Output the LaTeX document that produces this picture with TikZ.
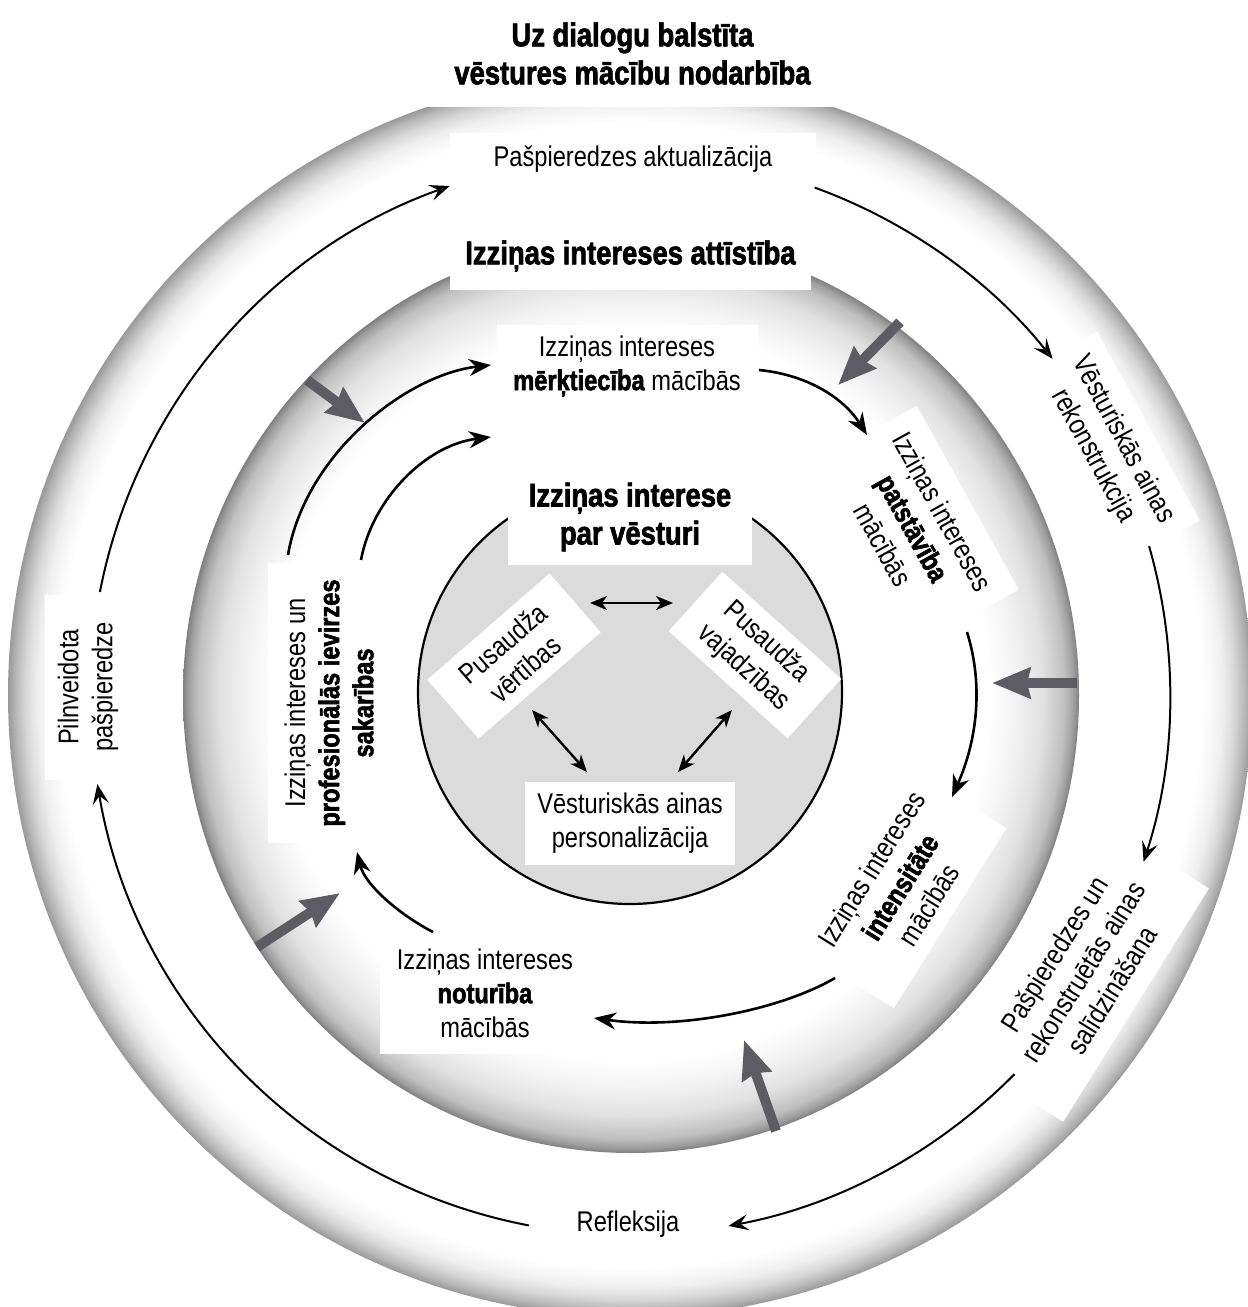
\documentclass[tikz,border=0pt]{standalone}
\usepackage{fontspec}
\setmainfont{Liberation Sans}[FakeStretch=0.83, BoldFeatures={FakeBold=2}]
\usetikzlibrary{arrows.meta,calc}

\newcommand\lblfont{\fontsize{28.5}{34}\selectfont}
\newcommand\headfont{\fontsize{33}{38}\selectfont\bfseries}

\definecolor{pushgray}{RGB}{92,92,98}

% soft rim of the outer disc and of the middle disc
\pgfdeclareradialshading{outerrim}{\pgfpoint{0bp}{0bp}}{%
  color(0bp)=(white); color(23bp)=(white); color(23.8bp)=(black!6);
  color(24.3bp)=(black!16); color(24.7bp)=(black!28); color(25bp)=(black!40);
  color(50bp)=(black!40)}
\pgfdeclareradialshading{midrim}{\pgfpoint{0bp}{0bp}}{%
  color(0bp)=(white); color(20bp)=(white); color(21.5bp)=(black!5);
  color(23bp)=(black!12); color(24.2bp)=(black!25); color(24.7bp)=(black!38);
  color(25bp)=(black!50); color(50bp)=(black!50)}

\tikzset{
  box/.style={fill=white, inner sep=0pt, align=center, font=\lblfont},
  headbox/.style={box, font=\headfont},
  cyc/.style={line width=2pt,
    -{Stealth[length=20pt,width=16pt,inset=8pt,fill=black!35,line width=2.6pt]}},
  dev/.style={line width=2.6pt, -{Stealth[length=22pt,width=17pt,inset=7pt]}},
  link/.style={line width=2.4pt,
    {Stealth[length=17pt,width=14pt,inset=5pt]}-{Stealth[length=17pt,width=14pt,inset=5pt]}},
  push/.style={line width=10pt, draw=pushgray,
    -{Stealth[length=38pt,width=30pt,inset=3pt]}},
}

\begin{document}
\begin{tikzpicture}[x=1pt,y=-1pt]
\useasboundingbox (0,0) rectangle (1248,1307);
\clip (0,0) rectangle (1248,1307);

% rings
\coordinate (O) at (630,695);
\shade[shading=outerrim] (O) circle[radius=622];
\shade[shading=midrim] (631,695) ellipse[x radius=448, y radius=458];
\filldraw[fill=black!14, line width=2.2pt] (630,692) circle[radius=212];

% outer ring labels
\node[headbox, minimum width=431pt, minimum height=107pt] (title) at (632.5,53.5)
  {Uz dialogu balstīta\\vēstures mācību nodarbība};
\node[box, minimum width=366pt, minimum height=52pt] (aktual) at (633,159)
  {Pašpieredzes aktualizācija};
\node[box, rotate=-61.5, minimum width=215pt, minimum height=92pt] (rekon) at (1108,448)
  {Vēsturiskās ainas\\rekonstrukcija};
\node[box, rotate=58, minimum width=275pt, minimum height=125pt] (salidz) at (1083,972)
  {Pašpieredzes un\\rekonstruētās ainas\\salīdzināšana};
\node[box, minimum width=197pt, minimum height=57pt] (refl) at (628,1224)
  {Refleksija};
\node[box, rotate=90, minimum width=185pt, minimum height=86pt] (pilnv) at (88,687)
  {Pilnveidota\\pašpieredze};

% middle ring labels
\node[headbox, minimum width=361pt, minimum height=68pt] (attist) at (630.5,256)
  {Izziņas intereses attīstība};
\node[box, minimum width=261pt, minimum height=82pt] (merk) at (627,366)
  {Izziņas intereses\\\textbf{mērķtiecība} mācībās};
\node[box, rotate=-61, minimum width=210pt, minimum height=125pt] (patst) at (913,528)
  {Izziņas intereses\\\textbf{patstāvība}\\mācībās};
\node[box, rotate=58, minimum width=212pt, minimum height=118pt] (intens) at (900,887)
  {Izziņas intereses\\\textbf{intensitāte}\\mācībās};
\node[box, minimum width=210pt, minimum height=121pt] (notur) at (485,993)
  {Izziņas intereses\\\textbf{noturība}\\mācībās};
\node[box, rotate=90, minimum width=280pt, minimum height=122pt] (sakar) at (329,703)
  {Izziņas intereses un\\\textbf{profesionālās ievirzes}\\\textbf{sakarības}};

% inner disc labels
\node[headbox, minimum width=244pt, minimum height=95pt] (izint) at (630,517)
  {Izziņas interese\\par vēsturi};
\node[box, rotate=41, minimum width=162pt, minimum height=78pt] (vert) at (514,656)
  {Pusaudža\\vērtības};
\node[box, rotate=-42, minimum width=160pt, minimum height=80pt] (vajad) at (755,655)
  {Pusaudža\\vajadzības};
\node[box, minimum width=210pt, minimum height=83pt] (pers) at (630,823)
  {Vēsturiskās ainas\\personalizācija};

% outer cycle
\coordinate (a1) at ($(O)+(-169:540)$);
\coordinate (b1) at ($(O)+(-70:540)$);
\coordinate (c1) at ($(O)+(-16:540)$);
\coordinate (d1) at ($(O)+(44.6:540)$);
\coordinate (e1) at ($(O)+(100.8:540)$);
\draw[cyc] (a1) arc[start angle=-169, end angle=-109.5, radius=540];
\draw[cyc] (b1) arc[start angle=-70, end angle=-38.5, radius=540];
\draw[cyc] (c1) arc[start angle=-16, end angle=18, radius=540];
\draw[cyc] (d1) arc[start angle=44.6, end angle=79.5, radius=540];
\draw[cyc] (e1) arc[start angle=100.8, end angle=170.5, radius=540];

% development cycle of the middle ring
\coordinate (f0) at (288,555); \coordinate (f1) at (491,365);
\coordinate (g0) at (361,560); \coordinate (g1) at (491,437);
\coordinate (h0) at (759,370); \coordinate (h1) at (867,435);
\coordinate (i0) at (967,632); \coordinate (i1) at (952,797);
\coordinate (j0) at (835,978); \coordinate (j1) at (594,1018);
\coordinate (k0) at (433,932); \coordinate (k1) at (357,852);
\draw[dev] (f0) .. controls (305,455) and (405,375) .. (f1);
\draw[dev] (g0) .. controls (372,500) and (425,445) .. (g1);
\draw[dev] (h0) .. controls (810,375) and (845,400) .. (h1);
\draw[dev] (i0) .. controls (985,690) and (975,745) .. (i1);
\draw[dev] (j0) .. controls (780,1010) and (680,1030) .. (j1);
\draw[dev] (k0) .. controls (400,915) and (365,885) .. (k1);

% links inside the inner disc
\coordinate (l1a) at (590,603); \coordinate (l1b) at (673,603);
\coordinate (l2a) at (532,710); \coordinate (l2b) at (587,772);
\coordinate (l3a) at (732,710); \coordinate (l3b) at (678,772);
\draw[link] (l1a) -- (l1b);
\draw[link] (l2a) -- (l2b);
\draw[link] (l3a) -- (l3b);

% grey influence arrows
\coordinate (p1a) at (307,380);  \coordinate (p1b) at (365,423);
\coordinate (p2a) at (900,322);  \coordinate (p2b) at (838,385);
\coordinate (p3a) at (1077,683); \coordinate (p3b) at (992,683);
\coordinate (p4a) at (776,1131); \coordinate (p4b) at (744,1040);
\coordinate (p5a) at (257,947);  \coordinate (p5b) at (340,893);
\draw[push] (p1a) -- (p1b);
\draw[push] (p2a) -- (p2b);
\draw[push] (p3a) -- (p3b);
\draw[push] (p4a) -- (p4b);
\draw[push] (p5a) -- (p5b);
\end{tikzpicture}
\end{document}
